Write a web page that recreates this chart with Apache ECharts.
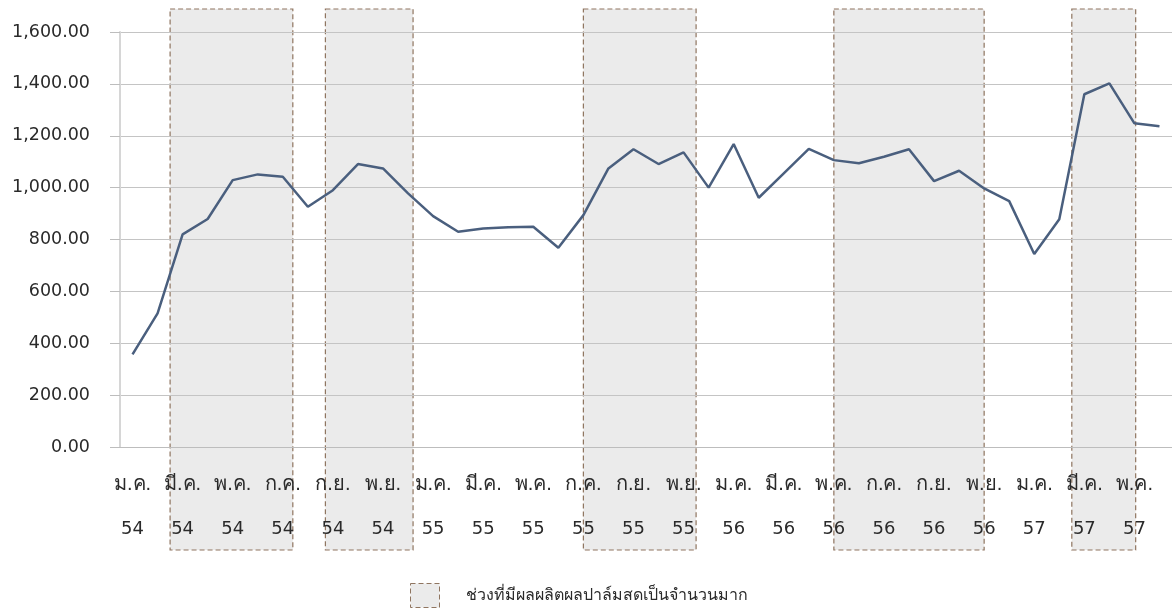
<!DOCTYPE html>
<html>
<head>
<meta charset="utf-8">
<script src="https://cdn.jsdelivr.net/npm/echarts@6/dist/echarts.min.js"></script>
<style>
  html, body { margin: 0; padding: 0; background: #fff; }
  #main { width: 1172px; height: 615px; }
</style>
</head>
<body>
<div id="main"></div>
<script>
// months ม.ค. 54 .. มิ.ย. 57
var monthNames = ['ม.ค.','ก.พ.','มี.ค.','เม.ย.','พ.ค.','มิ.ย.','ก.ค.','ส.ค.','ก.ย.','ต.ค.','พ.ย.','ธ.ค.'];
var years = ['54','55','56','57'];
var categories = [];
for (var y = 0; y < years.length; y++) {
  for (var m = 0; m < 12; m++) {
    if (categories.length < 42) categories.push(monthNames[m] + ' ' + years[y]);
  }
}

var prices = [
  357, 515, 820, 879, 1029, 1051, 1042, 926, 990, 1091, 1074, 978,
  890, 830, 842, 847, 849, 768, 894, 1074, 1148, 1091, 1136, 1000,
  1168, 961, 1055, 1149, 1106, 1094, 1119, 1148, 1025, 1065, 997, 948,
  744, 878, 1360, 1402, 1248, 1237
];

var yTicks = [0, 1600, 200];   // min, max, interval

// shaded periods, in months from the start of ม.ค. 54
var peakSpans = [
  [2.0, 6.9],
  [8.2, 11.7],
  [18.5, 23.0],
  [28.5, 34.5],
  [38.0, 40.55]
];

var legendName = 'ช่วงที่มีผลผลิตผลปาล์มสดเป็นจำนวนมาก';
var font = 'Arial, "Liberation Sans", "DejaVu Sans", sans-serif';

var chart = echarts.init(document.getElementById('main'));
var option = {
  animation: false,
  backgroundColor: '#fff',
  legend: {
    left: 410,
    top: 583,
    padding: 0,
    itemWidth: 29,
    itemHeight: 24,
    data: [{
      name: legendName,
      icon: 'rect',
      itemStyle: { color: '#ebebeb', borderColor: '#8f7560', borderWidth: 1, borderType: [5, 3] }
    }],
    textStyle: { fontSize: 16, color: '#2a2a2a', fontFamily: font, padding: [0, 0, 0, 21] }
  },
  grid: [
    { left: 120, top: 32, width: 1053, height: 415 },
    { left: 120, top: 9, width: 1053, height: 541 }
  ],
  xAxis: [{
    type: 'category',
    gridIndex: 0,
    data: categories,
    boundaryGap: true,
    axisLine: { lineStyle: { color: '#bdbdbd' } },
    axisTick: { interval: 0, length: 9, lineStyle: { color: '#c4c4c4' } },
    axisLabel: {
      interval: 1,
      margin: 15,
      formatter: function (v) {
        var p = v.split(' ');
        return '{m|' + p[0] + '}\n{y|' + p[1] + '}';
      },
      rich: {
        m: { fontSize: 20, color: '#2a2a2a', fontFamily: font, lineHeight: 45 },
        y: { fontSize: 18, color: '#2a2a2a', fontFamily: '"DejaVu Sans", sans-serif', lineHeight: 45 }
      }
    }
  }, {
    type: 'value',
    gridIndex: 1,
    min: 0,
    max: 42,
    show: false
  }],
  yAxis: [{
    type: 'value',
    gridIndex: 0,
    min: yTicks[0],
    max: yTicks[1],
    interval: yTicks[2],
    axisLine: { show: true, lineStyle: { color: '#d6d6d6', width: 2 } },
    axisTick: { show: true, length: 10, lineStyle: { color: '#bdbdbd' } },
    splitLine: { lineStyle: { color: '#c4c4c4' } },
    axisLabel: {
      margin: 30,
      fontSize: 17.5,
      color: '#2a2a2a',
      fontFamily: '"DejaVu Sans", sans-serif',
      formatter: function (v) {
        return v.toLocaleString('en-US', { minimumFractionDigits: 2, maximumFractionDigits: 2 });
      }
    }
  }, {
    type: 'value',
    gridIndex: 1,
    min: 0,
    max: 1,
    show: false
  }],
  series: [{
    name: legendName,
    type: 'custom',
    xAxisIndex: 1,
    yAxisIndex: 1,
    z: -1,
    data: peakSpans,
    itemStyle: { color: '#ebebeb', borderColor: '#8f7560', borderWidth: 1, borderType: [5, 3] },
    renderItem: function (params, api) {
      var p0 = api.coord([api.value(0), 1]);
      var p1 = api.coord([api.value(1), 0]);
      return {
        type: 'rect',
        shape: { x: p0[0], y: p0[1], width: p1[0] - p0[0], height: p1[1] - p0[1] },
        style: { fill: '#ebebeb', stroke: '#8f7560', lineWidth: 1.2, lineDash: [5, 3] }
      };
    }
  }, {
    name: 'price',
    type: 'line',
    xAxisIndex: 0,
    yAxisIndex: 0,
    data: prices,
    symbol: 'none',
    z: 3,
    lineStyle: { color: '#4a5f7e', width: 2.5 }
  }]
};
chart.setOption(option);
</script>
</body>
</html>
